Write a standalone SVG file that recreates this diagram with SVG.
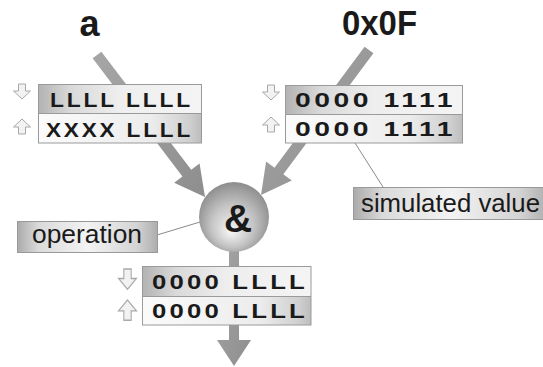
<svg xmlns="http://www.w3.org/2000/svg" xmlns:xlink="http://www.w3.org/1999/xlink" width="543" height="367" viewBox="0 0 543 367">
  <style>
    .title { font-family: "Liberation Sans", Arial, sans-serif; font-weight: bold; fill: #1a1a1a; }
    .bits { font-family: "Liberation Sans", Arial, sans-serif; font-weight: bold; font-size: 20px; letter-spacing: 2.5px; fill: #1a1a1a; }
    .label { font-family: "Liberation Sans", Arial, sans-serif; font-size: 26px; fill: #1a1a1a; }
    .frame { fill: none; stroke: #9a9a9a; stroke-width: 1; }
    .leader { stroke: #8a8a8a; stroke-width: 1; fill: none; }
    .flow { fill: url(#flowFill); }
    .icon { fill: #f2f2f2; stroke: #a8a8a8; stroke-width: 1; }
  </style>
  <defs>
    <linearGradient id="flowFill" x1="0" y1="0" x2="1" y2="1">
      <stop offset="0" stop-color="#a6a6a6"/>
      <stop offset="1" stop-color="#8e8e8e"/>
    </linearGradient>
    <linearGradient id="rowTop" x1="0" y1="0" x2="1" y2="0">
      <stop offset="0" stop-color="#b2b2b2"/>
      <stop offset="0.2" stop-color="#d9d9d9"/>
      <stop offset="0.5" stop-color="#eeeeee"/>
      <stop offset="1" stop-color="#f4f4f4"/>
    </linearGradient>
    <linearGradient id="rowBottom" x1="0" y1="0" x2="1" y2="0">
      <stop offset="0" stop-color="#fbfbfb"/>
      <stop offset="0.7" stop-color="#ececec"/>
      <stop offset="0.93" stop-color="#cfcfcf"/>
      <stop offset="1" stop-color="#bdbdbd"/>
    </linearGradient>
    <linearGradient id="tagFill" x1="0" y1="0" x2="1" y2="0">
      <stop offset="0" stop-color="#ababab"/>
      <stop offset="0.15" stop-color="#dadada"/>
      <stop offset="0.5" stop-color="#f3f3f3"/>
      <stop offset="0.85" stop-color="#d4d4d4"/>
      <stop offset="1" stop-color="#adadad"/>
    </linearGradient>
    <radialGradient id="ballFill" cx="0.5" cy="0.55" r="0.55" fx="0.45" fy="0.72">
      <stop offset="0" stop-color="#f6f6f6"/>
      <stop offset="0.55" stop-color="#c4c4c4"/>
      <stop offset="1" stop-color="#8c8c8c"/>
    </radialGradient>
    <!-- small direction glyphs: read (down) and write (up) -->
    <path id="iconDown" class="icon" d="M-3.5,0 H3.5 V7 H8.5 L0,15 L-8.5,7 H-3.5 Z"/>
    <path id="iconUp" class="icon" d="M-3.5,15 H3.5 V8 H8.5 L0,0 L-8.5,8 H-3.5 Z"/>
  </defs>

  <rect width="543" height="367" fill="#ffffff"/>

  <!-- connectors -->
  <g id="connectors">
    <polygon class="flow" points="92.62,58.33 101.38,51.67 191.22,169.79 199.58,163.43 205,197 174.10,182.81 182.46,176.45"/>
    <polygon class="flow" points="364.59,46.71 373.41,53.29 283.33,174.23 291.75,180.50 261,195 266.09,161.38 274.51,167.65"/>
    <polygon class="flow" points="229,245 239,245 239,340 251,340 234,366 217,340 229,340"/>
    <line class="leader" x1="157" y1="235" x2="200" y2="222"/>
    <line class="leader" x1="355" y1="143" x2="383" y2="187"/>
  </g>

  <!-- operand names -->
  <g id="input-a">
    <text class="title" x="89.5" y="36" font-size="36" text-anchor="middle">a</text>
  </g>
  <g id="input-const">
    <text class="title" x="342" y="35" font-size="35" textLength="75" lengthAdjust="spacingAndGlyphs">0x0F</text>
  </g>

  <!-- operand a: read / written bits -->
  <g id="bits-a">
    <rect x="38" y="84" width="163" height="29.5" fill="url(#rowTop)"/>
    <rect x="38" y="113.5" width="163" height="29.5" fill="url(#rowBottom)"/>
    <rect class="frame" x="38.5" y="84.5" width="163" height="58.5"/>
    <line class="frame" x1="38.5" y1="113.5" x2="201.5" y2="113.5"/>
    <text class="bits" x="50" y="107" textLength="143" lengthAdjust="spacingAndGlyphs">LLLL LLLL</text>
    <text class="bits" x="46" y="137" textLength="147" lengthAdjust="spacingAndGlyphs">XXXX LLLL</text>
    <use xlink:href="#iconDown" x="22" y="84"/>
    <use xlink:href="#iconUp" x="22" y="119"/>
  </g>

  <!-- constant operand -->
  <g id="bits-const">
    <rect x="285" y="85" width="178" height="29" fill="url(#rowTop)"/>
    <rect x="285" y="114" width="178" height="29" fill="url(#rowBottom)"/>
    <rect class="frame" x="285.5" y="85.5" width="177" height="57.5"/>
    <line class="frame" x1="285.5" y1="114.5" x2="462.5" y2="114.5"/>
    <text class="bits" x="295" y="106.5" font-size="19" textLength="161" lengthAdjust="spacingAndGlyphs">0000 1111</text>
    <text class="bits" x="295" y="136" font-size="19" textLength="161" lengthAdjust="spacingAndGlyphs">0000 1111</text>
    <use xlink:href="#iconDown" x="271" y="85"/>
    <use xlink:href="#iconUp" x="271" y="117"/>
  </g>

  <!-- AND operation -->
  <g id="op-and">
    <circle cx="234" cy="217" r="35" fill="url(#ballFill)"/>
    <text class="title" x="238" y="232" font-size="39" text-anchor="middle">&amp;</text>
  </g>

  <!-- result bits -->
  <g id="bits-result">
    <rect x="142" y="266" width="169" height="30" fill="url(#rowTop)"/>
    <rect x="142" y="296" width="169" height="29" fill="url(#rowBottom)"/>
    <rect class="frame" x="142.5" y="266.5" width="168.5" height="58.5"/>
    <line class="frame" x1="142.5" y1="296.5" x2="311" y2="296.5"/>
    <text class="bits" x="152" y="288.5" textLength="156" lengthAdjust="spacingAndGlyphs">0000 LLLL</text>
    <text class="bits" x="152" y="317.5" textLength="156" lengthAdjust="spacingAndGlyphs">0000 LLLL</text>
    <use xlink:href="#iconDown" x="127.5" y="269" transform="translate(127.5 269) scale(1.05 1.35) translate(-127.5 -269)"/>
    <use xlink:href="#iconUp" x="127.5" y="300" transform="translate(127.5 300) scale(1.05 1.35) translate(-127.5 -300)"/>
  </g>

  <!-- callouts -->
  <g id="label-operation">
    <rect x="17.5" y="221.5" width="140" height="31" fill="url(#tagFill)" stroke="#999999"/>
    <text class="label" x="87" y="243" text-anchor="middle" textLength="110" lengthAdjust="spacingAndGlyphs">operation</text>
  </g>
  <g id="label-simulated">
    <rect x="353.5" y="187.5" width="195" height="32" fill="url(#tagFill)" stroke="#999999"/>
    <text class="label" x="361" y="212" textLength="179" lengthAdjust="spacingAndGlyphs">simulated value</text>
  </g>
</svg>
